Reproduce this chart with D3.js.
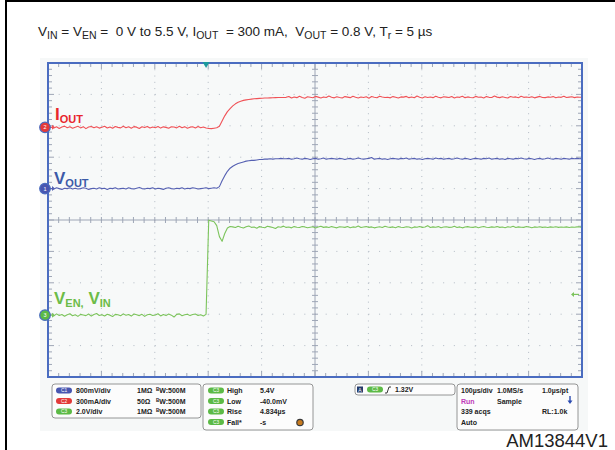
<!DOCTYPE html>
<html>
<head>
<meta charset="utf-8">
<script src="https://cdn.jsdelivr.net/npm/d3@7"></script>
<style>
  body { margin: 0; background: #fff; }
  svg { display: block; font-family: "Liberation Sans", Arial, sans-serif; }
</style>
</head>
<body>
<div id="chart"></div>
<script>
var width = 615
var height = 450

// sample clock of the traces (µs), trigger at t = 0, 100 µs/div
var tStart = -295
var tStep = 5

// C1: VOUT in volts
var voutValues = [
  0.00,0.01,-0.01,0.02,0.00,-0.02,0.01,0.00,0.02,-0.01,
  0.01,-0.01,0.00,0.02,0.01,-0.02,0.00,0.01,-0.01,0.02,
  0.00,0.01,-0.02,0.01,0.00,0.02,-0.01,0.00,0.01,-0.01,
  0.02,0.00,-0.01,0.01,0.03,0.00,-0.01,0.01,0.00,0.02,
  -0.01,0.01,0.00,-0.02,0.01,0.02,0.00,-0.01,0.01,0.00,
  0.02,-0.01,0.01,0.00,0.02,0.01,-0.01,0.00,0.01,0.02,
  0.00,0.01,0.02,0.01,
  0.05,0.20,0.33,0.44,0.52,0.57,0.61,0.64,0.66,0.68,0.70,0.71,0.72,0.72,0.73,0.74,0.74,0.75,0.75,0.76,0.75,0.76,0.76,0.77,0.76,
  0.76,0.77,0.75,0.76,0.78,0.76,0.75,0.77,0.76,0.74,
  0.76,0.77,0.75,0.76,0.78,0.75,0.76,0.77,0.76,0.75,
  0.77,0.76,0.74,0.76,0.77,0.75,0.76,0.78,0.76,0.75,
  0.76,0.77,0.79,0.75,0.76,0.77,0.75,0.76,0.74,0.76,
  0.77,0.76,0.75,0.77,0.76,0.78,0.75,0.76,0.77,0.75,
  0.76,0.74,0.76,0.77,0.76,0.75,0.78,0.76,0.77,0.75,
  0.76,0.77,0.75,0.76,0.78,0.76,0.75,0.77,0.76,0.74,
  0.76,0.77,0.76,0.75,0.77,0.76,0.78,0.75,0.76,0.77,
  0.75,0.76,0.74,0.77,0.76,0.75,0.77,0.76,0.78,0.76,
  0.75,0.77,0.76,0.74,0.76,0.77,0.75,0.76,0.78,0.76,
  0.75,0.77,0.76,0.75,0.77,0.76,0.75,0.77,0.76,0.77,
  0.76,0.77
]

// C2: IOUT in mA
var ioutValues = [
  0,8,-6,5,-10,4,12,-3,6,-8,
  2,10,-5,7,-12,3,9,-4,6,-7,
  1,11,-6,4,-9,8,0,-5,10,-3,
  5,-8,7,2,-11,6,-2,9,-6,4,
  -3,8,-7,5,0,-9,6,3,-5,10,
  -4,7,-8,2,6,-5,9,-3,4,-6,
  -10,-12,-8,-4,
  10,60,110,150,180,205,225,240,250,258,263,267,270,273,275,277,278,280,281,282,283,284,285,286,286,
  287,295,280,290,284,298,286,279,292,288,
  283,296,289,281,291,285,299,287,282,293,
  286,280,294,289,284,297,288,281,290,286,
  292,279,295,287,283,298,290,285,288,282,
  294,287,280,291,289,296,284,290,283,299,
  288,281,293,286,290,284,297,287,282,292,
  289,285,295,280,290,287,298,284,291,286,
  283,296,288,290,281,294,287,285,299,289,
  284,292,286,280,295,288,291,283,297,287,
  290,285,293,282,289,296,286,284,291,288,
  294,283,290,287,297,285,289,292,284,290,
  288,286
]

// C3: VEN = VIN in volts
var vinValues = [
  0.00,0.06,-0.05,0.08,-0.02,0.04,-0.07,0.03,0.09,-0.04,
  0.02,-0.08,0.05,0.01,-0.03,0.07,-0.06,0.04,0.10,-0.02,
  0.03,-0.05,0.06,0.00,-0.09,0.05,0.02,-0.04,0.08,-0.01,
  0.04,-0.06,0.07,0.02,-0.03,0.05,-0.08,0.03,0.06,-0.02,
  0.01,0.09,-0.05,0.04,-0.03,0.07,0.00,-0.12,0.05,0.08,
  -0.04,0.02,0.06,-0.03,0.04,0.07,-0.02,0.03,-0.05,
  0.05,6.05,
  6.00,5.95,5.70,5.00,4.70,5.20,5.55,5.65,
  5.62,5.58,5.66,5.60,5.55,5.63,5.68,5.59,5.61,5.54,
  5.64,5.60,5.57,5.66,5.62,5.58,5.52,5.63,5.60,5.67,
  5.59,5.61,5.56,5.64,5.60,5.58,5.65,5.62,5.57,5.60,
  5.63,5.55,5.61,5.66,5.59,5.62,5.58,5.64,5.60,5.56,
  5.63,5.61,5.59,5.65,5.57,5.62,5.60,5.68,5.58,5.61,
  5.64,5.59,5.62,5.56,5.60,5.63,5.58,5.66,5.61,5.59,
  5.62,5.57,5.64,5.60,5.58,5.63,5.61,5.55,5.62,5.60,
  5.65,5.59,5.61,5.70,5.58,5.62,5.60,5.64,5.57,5.61,
  5.63,5.59,5.60,5.66,5.58,5.62,5.56,5.61,5.64,5.60,
  5.59,5.63,5.57,5.61,5.65,5.60,5.58,5.62,5.60,5.64,
  5.59,5.61,5.57,5.63,5.60,5.66,5.58,5.62,5.60,5.59,
  5.64,5.61,5.57,5.62,5.60,5.63,5.59,5.61,5.58,5.62,
  5.60,5.63,5.59,5.61,5.60,5.62,5.58,5.61,5.60,5.62,
  5.61,5.60
]

// scope settings and readouts
var channelNames = ["C1", "C2", "C3"]
var channelPerDiv = [0.8, 300, 2.0]
var channelScaleText = ["800mV/div", "300mA/div", "2.0V/div"]
var channelImpedance = ["1MΩ", "50Ω", "1MΩ"]
var channelBandwidth = ["500M", "500M", "500M"]
var measureNames = ["High", "Low", "Rise", "Fall*"]
var measureValues = ["5.4V", "-40.0mV", "4.834µs", "-s"]
var triggerLevel = 1.32
var acqRows = [
  ["100µs/div", "1.0MS/s", "1.0µs/pt"],
  ["Run", "Sample", ""],
  ["339 acqs", "", "RL:1.0k"],
  ["Auto", "", ""]
]

var colors = { C1: "#5560b2", C2: "#f05257", C3: "#7cc45c" }
var labelColors = { C1: "#3c5aa8", C2: "#e8262c", C3: "#6cbc48" }
var pillColors = { C1: "#4856b0", C2: "#e23a3a", C3: "#5cba46" }
// ground position of each channel, in divisions from centre
var groundDiv = { C1: 1.0, C2: 2.95, C3: -3.03 }

var plot = { left: 48, right: 582, top: 63, bottom: 377 }

var svg = d3.select("#chart")
    .append("svg")
    .attr("width", width)
    .attr("height", height)

// page borders
svg.append("line").attr("x1", 6).attr("x2", 6).attr("y1", 0).attr("y2", height)
    .attr("stroke", "#000").attr("stroke-width", 2)
svg.append("line").attr("x1", 5).attr("x2", width).attr("y1", 1).attr("y2", 1)
    .attr("stroke", "#000").attr("stroke-width", 2)

// scope screen background
svg.append("rect").attr("x", 40).attr("y", 58).attr("width", 548).attr("height", 373)
    .attr("fill", "#f6f8f8")

// text with subscripts
function richText(sel, x, y, parts, size, subSize, shift, weight, fill) {
    var t = sel.append("text").attr("x", x).attr("y", y)
        .style("white-space", "pre")
        .attr("font-size", size).attr("font-weight", weight || "normal")
        .attr("fill", fill || "#222")
    var down = false
    parts.forEach(function(p) {
        var sub = p[1] === "sub"
        var s = t.append("tspan").text(p[0])
        if (sub) s.attr("font-size", subSize)
        if (sub && !down) { s.attr("dy", shift); down = true }
        else if (!sub && down) { s.attr("dy", -shift); down = false }
    })
    return t
}

richText(svg, 38, 36, [
    ["V"], ["IN", "sub"], [" = V"], ["EN", "sub"], [" =  0 V to 5.5 V, I"], ["OUT", "sub"],
    ["  = 300 mA,  V"], ["OUT", "sub"], [" = 0.8 V, T"], ["r", "sub"], [" = 5 µs"]
], 13.5, 10.5, 2.6, "normal", "#222")

// scales: 10 x 10 divisions
var x = d3.scaleLinear().domain([-296, 704]).range([plot.left, plot.right])
var gx = d3.scaleLinear().domain([0, 10]).range([plot.left, plot.right])
var gy = d3.scaleLinear().domain([-5, 5]).range([plot.bottom, plot.top])
var minorX = (plot.right - plot.left) / 50
var minorY = (plot.bottom - plot.top) / 50

svg.append("rect").attr("x", plot.left).attr("y", plot.top)
    .attr("width", plot.right - plot.left).attr("height", plot.bottom - plot.top)
    .attr("fill", "#f7f9f9")

var grid = svg.append("g")
// dotted division lines
grid.selectAll(".vdot").data([1, 2, 3, 4, 6, 7, 8, 9]).enter().append("line")
    .attr("x1", d => gx(d)).attr("x2", d => gx(d))
    .attr("y1", plot.top).attr("y2", plot.bottom)
    .attr("stroke", "#b2bac4").attr("stroke-width", 1)
    .attr("stroke-dasharray", "1," + (minorY - 1))
grid.selectAll(".hdot").data([-4, -3, -2, -1, 1, 2, 3, 4]).enter().append("line")
    .attr("y1", d => gy(d)).attr("y2", d => gy(d))
    .attr("x1", plot.left).attr("x2", plot.right)
    .attr("stroke", "#b2bac4").attr("stroke-width", 1)
    .attr("stroke-dasharray", "1," + (minorX - 1))

// centre cross
var cx = gx(5), cy = gy(0)
grid.append("line").attr("x1", plot.left).attr("x2", plot.right).attr("y1", cy).attr("y2", cy)
    .attr("stroke", "#9ea6b6").attr("stroke-width", 1)
grid.append("line").attr("x1", cx).attr("x2", cx).attr("y1", plot.top).attr("y2", plot.bottom)
    .attr("stroke", "#9ea6b6").attr("stroke-width", 1)

var ticks = d3.range(1, 50)
grid.selectAll(".tcx").data(ticks).enter().append("line")
    .attr("x1", d => plot.left + d * minorX).attr("x2", d => plot.left + d * minorX)
    .attr("y1", cy - 3).attr("y2", cy + 3)
    .attr("stroke", "#9ea6b6")
grid.selectAll(".tcy").data(ticks).enter().append("line")
    .attr("y1", d => plot.top + d * minorY).attr("y2", d => plot.top + d * minorY)
    .attr("x1", cx - 3).attr("x2", cx + 3)
    .attr("stroke", "#9ea6b6")
// edge ticks
grid.selectAll(".tt").data(ticks).enter().append("line")
    .attr("x1", d => plot.left + d * minorX).attr("x2", d => plot.left + d * minorX)
    .attr("y1", plot.top).attr("y2", d => plot.top + (d % 5 ? 4 : 6))
    .attr("stroke", "#9ea6b6")
grid.selectAll(".tb").data(ticks).enter().append("line")
    .attr("x1", d => plot.left + d * minorX).attr("x2", d => plot.left + d * minorX)
    .attr("y1", plot.bottom).attr("y2", d => plot.bottom - (d % 5 ? 4 : 6))
    .attr("stroke", "#9ea6b6")
grid.selectAll(".tl").data(ticks).enter().append("line")
    .attr("y1", d => plot.top + d * minorY).attr("y2", d => plot.top + d * minorY)
    .attr("x1", plot.left).attr("x2", d => plot.left + (d % 5 ? 4 : 6))
    .attr("stroke", "#9ea6b6")
grid.selectAll(".tr").data(ticks).enter().append("line")
    .attr("y1", d => plot.top + d * minorY).attr("y2", d => plot.top + d * minorY)
    .attr("x1", plot.right).attr("x2", d => plot.right - (d % 5 ? 4 : 6))
    .attr("stroke", "#9ea6b6")

// traces
svg.append("clipPath").attr("id", "clip").append("rect")
    .attr("x", plot.left + 4).attr("y", plot.top)
    .attr("width", plot.right - plot.left - 5).attr("height", plot.bottom - plot.top)

var traces = [
    { ch: "C2", values: ioutValues },
    { ch: "C1", values: voutValues },
    { ch: "C3", values: vinValues }
]
var traceG = svg.append("g").attr("clip-path", "url(#clip)")
traces.forEach(function(tr) {
    var k = channelNames.indexOf(tr.ch)
    var line = d3.line()
        .x(function(d, i) { return x(tStart + i * tStep) })
        .y(function(d) { return gy(d / channelPerDiv[k] + groundDiv[tr.ch]) })
    traceG.append("path").datum(tr.values)
        .attr("d", line)
        .attr("fill", "none")
        .attr("stroke", colors[tr.ch])
        .attr("stroke-width", 1.1)
        .attr("stroke-linejoin", "round")
})

// frame
svg.append("rect").attr("x", plot.left).attr("y", plot.top)
    .attr("width", plot.right - plot.left).attr("height", plot.bottom - plot.top)
    .attr("fill", "none").attr("stroke", "#4a6cc0").attr("stroke-width", 2)

// trigger position marker
svg.append("path")
    .attr("d", "M" + (x(0) - 3.5) + "," + (plot.top - 1) + "h7l-3.5,6z")
    .attr("fill", "#1c9a9c")

// trigger level marker (on C3)
var trigY = gy(triggerLevel / channelPerDiv[2] + groundDiv.C3)
svg.append("line").attr("x1", plot.right - 10).attr("x2", plot.right - 3)
    .attr("y1", trigY).attr("y2", trigY).attr("stroke", colors.C3).attr("stroke-width", 1.2)
svg.append("path").attr("d", "M" + (plot.right - 11) + "," + trigY + "l3,-2.5v5z").attr("fill", colors.C3)

// ground markers
channelNames.forEach(function(ch) {
    var yy = gy(groundDiv[ch])
    var g = svg.append("g")
    g.append("line").attr("x1", 48).attr("x2", 53).attr("y1", yy).attr("y2", yy)
        .attr("stroke", colors[ch]).attr("stroke-width", 1.2)
    g.append("path").attr("d", "M55," + yy + "l-3,-2.5v5z").attr("fill", colors[ch])
    g.append("circle").attr("cx", 45).attr("cy", yy).attr("r", 5.3)
        .attr("fill", pillColors[ch]).attr("stroke", "#4a6cc0").attr("stroke-width", 1.2)
    g.append("text").attr("x", 45).attr("y", yy + 2).attr("text-anchor", "middle")
        .attr("font-size", 5.5).attr("fill", "#fff").text(ch.slice(1))
})

// trace labels
richText(svg, 55, 119.5, [["I"], ["OUT", "sub"]], 17, 11, 3, "bold", labelColors.C2)
richText(svg, 54, 183.5, [["V"], ["OUT", "sub"]], 17, 11, 3.4, "bold", labelColors.C1)
richText(svg, 54, 303.5, [["V"], ["EN,", "sub"], [" V"], ["IN", "sub"]], 17, 11, 3, "bold", labelColors.C3)

// readout panels
function panel(x0, y0, w, h) {
    svg.append("rect").attr("x", x0).attr("y", y0).attr("width", w).attr("height", h)
        .attr("rx", 3).attr("fill", "#fcfcfc").attr("stroke", "#7c7c7c").attr("stroke-width", 0.8)
}
function pill(x0, yc, ch) {
    svg.append("rect").attr("x", x0).attr("y", yc - 3).attr("width", 16).attr("height", 6)
        .attr("rx", 3).attr("fill", pillColors[ch])
    svg.append("text").attr("x", x0 + 8).attr("y", yc + 1.8).attr("text-anchor", "middle")
        .attr("font-size", 4.8).attr("fill", "#fff").text(ch)
}
function small(x0, y0, s, fill) {
    return svg.append("text").attr("x", x0).attr("y", y0).attr("font-size", 7)
        .attr("font-weight", "bold").attr("fill", fill || "#222").text(s)
}

var rowY = [390.5, 401, 411.5, 422]

panel(52, 384, 149, 34)
channelNames.forEach(function(ch, i) {
    pill(56, rowY[i], ch)
    small(76, rowY[i] + 2.5, channelScaleText[i])
    small(137, rowY[i] + 2.5, channelImpedance[i])
    var t = svg.append("text").attr("x", 156).attr("y", rowY[i] + 2.5).attr("font-size", 7)
        .attr("font-weight", "bold").attr("fill", "#222")
    t.append("tspan").attr("font-size", 4.5).attr("dy", -2).text("B")
    t.append("tspan").attr("dy", 2).text("W:" + channelBandwidth[i])
})

panel(203, 384, 110, 46)
measureNames.forEach(function(m, i) {
    pill(208, rowY[i], "C3")
    small(227, rowY[i] + 2.5, m)
    small(260, rowY[i] + 2.5, measureValues[i])
})
svg.append("circle").attr("cx", 300).attr("cy", 422.5).attr("r", 3.2)
    .attr("fill", "#c77a1e").attr("stroke", "#3a3a3a").attr("stroke-width", 1.2)

panel(355, 384, 100, 11)
svg.append("rect").attr("x", 357).attr("y", 386.5).attr("width", 6).attr("height", 6).attr("fill", "#233a6a")
svg.append("text").attr("x", 360).attr("y", 391.5).attr("text-anchor", "middle")
    .attr("font-size", 5).attr("fill", "#fff").text("A")
pill(367, 389.5, "C3")
svg.append("path").attr("d", "M385,393h2l2,-6h2").attr("fill", "none").attr("stroke", "#222").attr("stroke-width", 0.9)
small(395, 392, triggerLevel.toFixed(2) + "V")

panel(457, 384, 121, 46)
var acqX = [461, 497, 542]
acqRows.forEach(function(row, i) {
    row.forEach(function(s, j) {
        if (!s) return
        small(acqX[j], rowY[i] + 2.5, s, (i === 1 && j === 0) ? "#c03ab8" : "#222")
    })
})
svg.append("line").attr("x1", 570).attr("x2", 570).attr("y1", 396).attr("y2", 401)
    .attr("stroke", "#2a4ab0").attr("stroke-width", 1.4)
svg.append("path").attr("d", "M567.5,400.5h5l-2.5,3.5z").attr("fill", "#2a4ab0")

// figure id
svg.append("text").attr("x", 608).attr("y", 447).attr("text-anchor", "end")
    .attr("font-size", 18.5).attr("fill", "#222").text("AM13844V1")
</script>
</body>
</html>
